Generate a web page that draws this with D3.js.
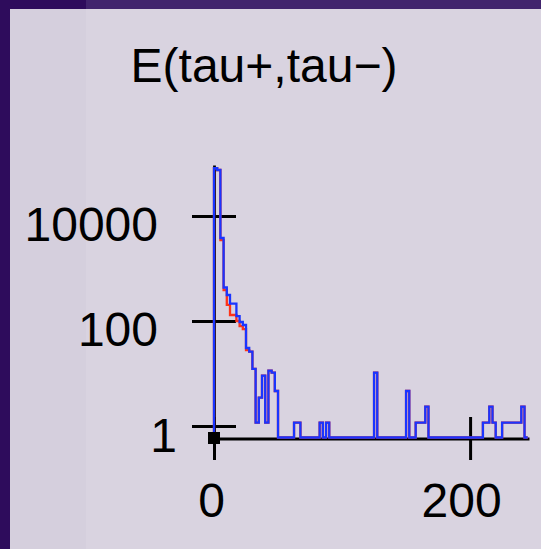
<!DOCTYPE html>
<html lang="en">
<head>
<meta charset="UTF-8">
<title>E(tau+,tau-)</title>
<script src="https://cdnjs.cloudflare.com/ajax/libs/d3/7.8.5/d3.min.js"></script>
<style>
    body { margin: 0; background: #2e0c5c; }
    svg { display: block; font-family: "Liberation Sans", Arial, sans-serif; }
</style>
</head>
<body>
<script>
    // histogram: 2.5 wide bins starting at 0
    var binWidth = 2.5;
    var blueCounts = [81100, 75200, 3810, 435, 313, 215, 215, 124, 95.7, 83.9,
        30.6, 26.2, 12.2, 1.16, 3.46, 9.08, 1.16, 11.3, 10.4, 4.64,
        0, 0, 0, 0, 0, 1.16, 1.16, 0, 0, 0,
        0, 0, 0, 1.16, 0, 1.16, 0, 0, 0, 0,
        0, 0, 0, 0, 0, 0, 0, 0, 0, 0,
        10.4, 0, 0, 0, 0, 0, 0, 0, 0, 0,
        4.64, 0, 0, 1.16, 1.16, 1.16, 2.33, 0, 0, 0,
        0, 0, 0, 0, 0, 0, 0, 0, 0, 0,
        0, 0, 0, 0, 1.16, 1.16, 2.33, 1.16, 0, 0,
        1.16, 1.16, 1.16, 1.16, 1.16, 1.16, 2.33, 0];
    var redCounts = blueCounts.slice();
    // bins where the red one sits below the blue one
    var redLow = [[2, 3490], [3, 389], [4, 202], [5, 130], [6, 130], [7, 100], [8, 80], [9, 70], [10, 28]];
    redLow.forEach(function(d) { redCounts[d[0]] = d[1]; });

    var yTicks = [1, 100, 10000];
    var xTicks = [0, 200];
    var title = "E(tau+,tau\u2212)";

    var W = 541, H = 549;
    var svg = d3.select("body").append("svg")
        .attr("width", W)
        .attr("height", H);

    // backdrop
    svg.append("rect").attr("width", W).attr("height", H).attr("fill", "#2e0c5c");
    svg.append("rect").attr("x", 86).attr("width", W - 86).attr("height", 9).attr("fill", "#41246d");
    svg.append("rect").attr("x", 10).attr("y", 9).attr("width", W - 10).attr("height", H - 9).attr("fill", "#d9d3e0");
    svg.append("rect").attr("x", 10).attr("y", 9).attr("width", 76).attr("height", H - 9).attr("fill", "#d5cfdd");

    var x = d3.scaleLinear().domain([0, 246]).range([214, 529]);
    var yMin = 0.604;
    var y = d3.scaleLog().domain([yMin, 93600]).range([437.5, 165]);

    function yv(v) { return v > 0 ? y(v) : y(yMin); }

    svg.append("text")
        .attr("x", 264)
        .attr("y", 82)
        .attr("text-anchor", "middle")
        .style("font-size", "48px")
        .attr("fill", "#000")
        .text(title);

    // axes
    var yAxis = d3.axisLeft(y).tickValues(yTicks).tickFormat(d3.format("d")).tickSizeOuter(0);
    var gy = svg.append("g").attr("transform", "translate(214,0)").call(yAxis);
    gy.select(".domain").attr("stroke", "#000").attr("stroke-width", 2.8);
    gy.selectAll(".tick line").attr("x1", -22).attr("x2", 22).attr("stroke", "#000").attr("stroke-width", 3);
    gy.selectAll(".tick text")
        .attr("x", function(d) { return d === 1 ? -37 : -56; })
        .attr("dy", 25)
        .style("font-size", "48px")
        .style("font-family", "'Liberation Sans', Arial, sans-serif")
        .attr("fill", "#000");

    var xAxis = d3.axisBottom(x).tickValues(xTicks).tickSizeOuter(0);
    var gx = svg.append("g").attr("transform", "translate(0,438.5)").call(xAxis);
    gx.select(".domain").attr("stroke", "#000").attr("stroke-width", 2.8);
    gx.selectAll(".tick line").attr("y1", -21.5).attr("y2", 21.5).attr("stroke", "#000").attr("stroke-width", 3);
    gx.selectAll(".tick text")
        .attr("y", 78.5)
        .attr("dy", 0)
        .attr("dx", function(d) { return d === 200 ? -9 : -3; })
        .style("font-size", "48px")
        .style("font-family", "'Liberation Sans', Arial, sans-serif")
        .attr("fill", "#000");

    // step outlines
    function stepPoints(counts) {
        var pts = [[0, 0]];
        counts.forEach(function(c, i) { pts.push([i * binWidth, c]); });
        pts.push([counts.length * binWidth, counts[counts.length - 1]]);
        pts.push([counts.length * binWidth, 0]);
        return pts;
    }
    var line = d3.line()
        .x(function(d) { return x(d[0]); })
        .y(function(d) { return yv(d[1]); })
        .curve(d3.curveStepAfter);

    svg.append("path")
        .attr("d", line(stepPoints(redCounts)))
        .attr("fill", "none")
        .attr("stroke", "#ff3319")
        .attr("stroke-width", 2.3);
    svg.append("path")
        .attr("d", line(stepPoints(blueCounts)))
        .attr("fill", "none")
        .attr("stroke", "#1a35ff")
        .attr("stroke-width", 2.3);

    // marker at origin
    svg.append("rect")
        .attr("x", x(0) - 6)
        .attr("y", y(yMin) - 5.5)
        .attr("width", 12)
        .attr("height", 12)
        .attr("fill", "#000");
</script>
</body>
</html>
